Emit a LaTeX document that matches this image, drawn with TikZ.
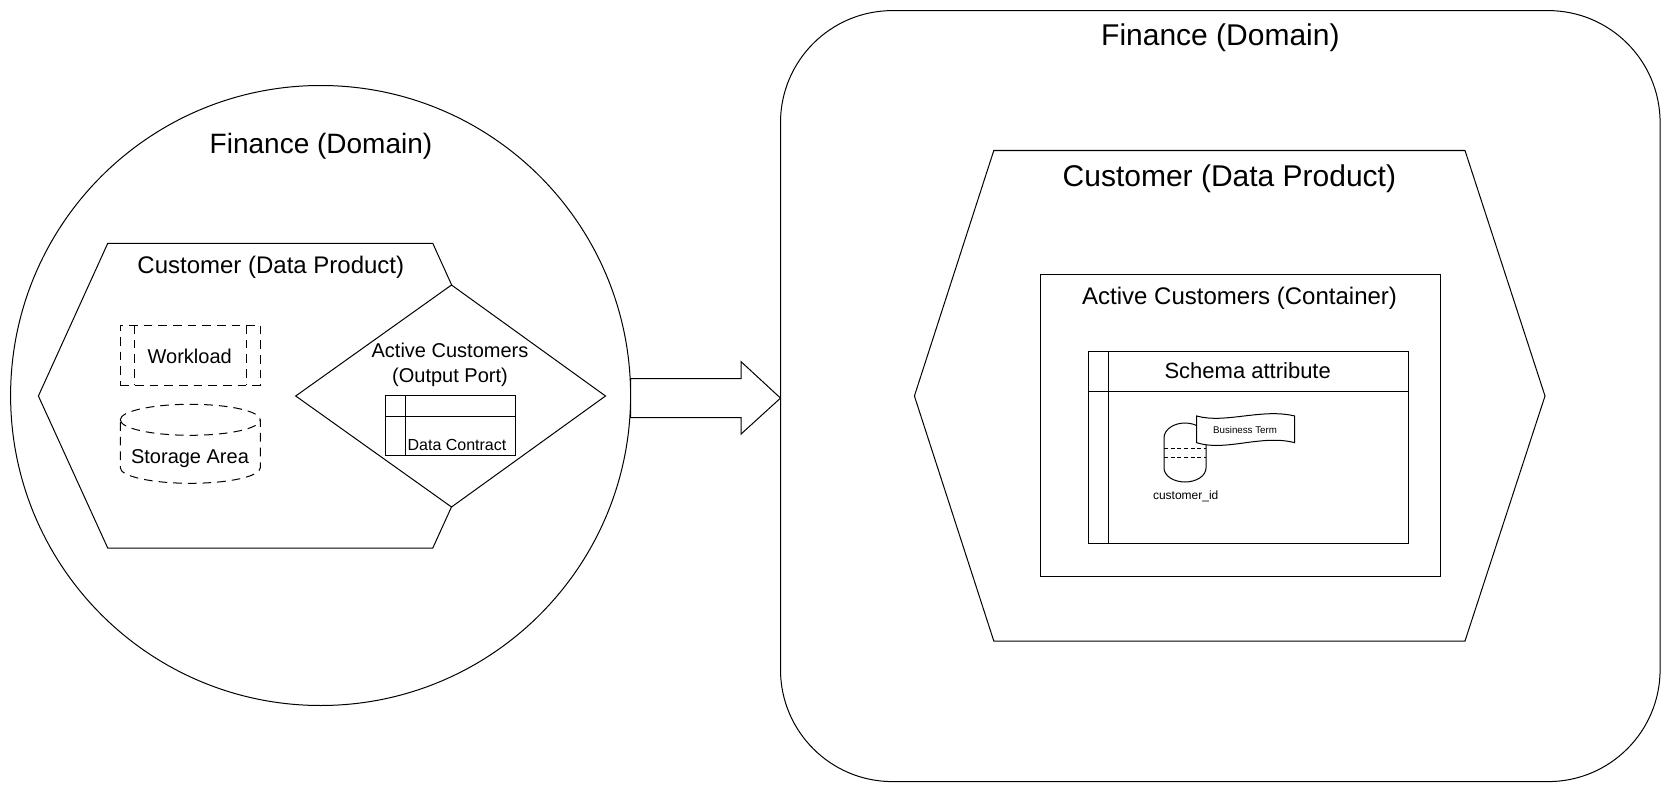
\documentclass[tikz,border=0pt]{standalone}
\usepackage{fontspec}
\setmainfont{Liberation Sans}
\usetikzlibrary{calc}
\def\px{0.75pt}

\begin{document}
\begin{tikzpicture}[x=0.75pt,y=-0.75pt]
	\tikzstyle{every node}=[inner sep=0pt,outer sep=0pt,align=center]
	\tikzstyle{thinline}=[draw=black,line width=0.75pt]
	\tikzstyle{outline}=[thinline,fill=white]
	\tikzstyle{dashbox}=[thinline,fill=white,dash pattern=on 6.5pt off 4.5pt]
	\useasboundingbox (0,0) rectangle (1672,792);
	% left side
	\node[outline,circle,minimum size=620*\px] (circleDomain) at (320.6,395.5) {};
	\draw[outline] (38.4,396) -- (107.7,243.4) -- (432.8,243.4) -- (502,396) -- (432.8,548) -- (107.7,548) -- cycle;
	\draw[outline] (295.7,396) -- (451.5,285) -- (605.5,396) -- (451.5,507) -- cycle;
	\node[font=\fontsize{21}{25}\selectfont] (leftDomainText) at (321,146) {Finance (Domain)};
	\node[font=\fontsize{18}{22}\selectfont] (leftProductText) at (270.8,267.5) {Customer (Data Product)};
	\node[dashbox,rectangle,minimum width=140*\px,minimum height=60*\px] (workload) at (190.3,355) {};
	\draw[dashbox] (134.3,325) -- (134.3,385) (246.3,325) -- (246.3,385);
	\node[font=\fontsize{15}{18}\selectfont] (workloadText) at (189.7,356) {Workload};
	\draw[dashbox] (120.3,419.8) arc[start angle=180,end angle=360,x radius=70*\px,y radius=15.5*\px] (120.3,419.8) arc[start angle=180,end angle=0,x radius=70*\px,y radius=15.5*\px] -- (260.3,467.8) arc[start angle=0,end angle=-180,x radius=70*\px,y radius=15.5*\px] -- cycle;
	\node[font=\fontsize{15}{18}\selectfont] (storageText) at (190,458.7) {Storage Area};
	\node[font=\fontsize{15}{18.5}\selectfont] (portText) at (450,364.7) {Active Customers\\(Output Port)};
	\node[outline,rectangle,minimum width=130.4*\px,minimum height=60*\px] (contract) at (450.5,425.7) {};
	\draw[thinline] (385.3,416) -- (515.7,416) (405.3,395.7) -- (405.3,455.7);
	\node[font=\fontsize{12}{14}\selectfont] (contractText) at (457,444.8) {Data Contract};
	% right side
	\node[outline,rectangle,rounded corners=112*\px,minimum width=879.6*\px,minimum height=771*\px] (rectDomain) at (1220.3,396.1) {};
	\draw[outline] (914.4,396) -- (993.8,150.5) -- (1465,150.5) -- (1545,396) -- (1465,641) -- (993.8,641) -- cycle;
	\node[font=\fontsize{22.5}{27}\selectfont] (rightDomainText) at (1220.4,38) {Finance (Domain)};
	\node[font=\fontsize{22.5}{27}\selectfont] (rightProductText) at (1229.4,179) {Customer (Data Product)};
	\node[outline,rectangle,minimum width=399.8*\px,minimum height=302.6*\px] (container) at (1240.1,425.5) {};
	\node[font=\fontsize{18}{22}\selectfont] (containerText) at (1239.6,298) {Active Customers (Container)};
	\node[outline,rectangle,minimum width=320*\px,minimum height=192*\px] (schema) at (1248,447.3) {};
	\draw[thinline] (1088,391.3) -- (1408,391.3) (1108.3,351.3) -- (1108.3,543.3);
	\node[font=\fontsize{16.5}{20}\selectfont] (schemaText) at (1247.7,371) {Schema attribute};
	\draw[outline] (1164,438) arc[start angle=180,end angle=90,x radius=21*\px,y radius=15*\px] -- (1185,423) arc[start angle=90,end angle=0,x radius=21*\px,y radius=15*\px] -- (1206,468) arc[start angle=0,end angle=-180,x radius=21*\px,y radius=14*\px] -- cycle;
	\draw[thinline,dash pattern=on 3pt off 2pt] (1164,448.7) -- (1206,448.7) (1164,457) -- (1206,457);
	\draw[outline] (1196.7,416) .. controls (1225,424) and (1262,408) .. (1294.7,416) -- (1294.7,442.7) .. controls (1262,434) and (1225,452) .. (1196.7,442.7) -- cycle;
	\node[font=\fontsize{7.3}{9}\selectfont] (termText) at (1245,430) {Business Term};
	\node[font=\fontsize{9}{11}\selectfont] (attrText) at (1185.7,496.5) {customer\_id};
	% arrow between the two domains
	\coordinate (arrowRoot) at ($(circleDomain.east)+(0,2.5)$);
	\coordinate (arrowTip) at ($(rectDomain.west)+(0,2)$);
	\draw[outline] ($(arrowRoot)+(0,-19.5)$) -- ($(arrowTip)+(-39.5,-19.5)$) -- ($(arrowTip)+(-39.5,-36.5)$) -- (arrowTip) -- ($(arrowTip)+(-39.5,36)$) -- ($(arrowTip)+(-39.5,19.5)$) -- ($(arrowRoot)+(0,19.5)$) -- cycle;
\end{tikzpicture}
\end{document}
